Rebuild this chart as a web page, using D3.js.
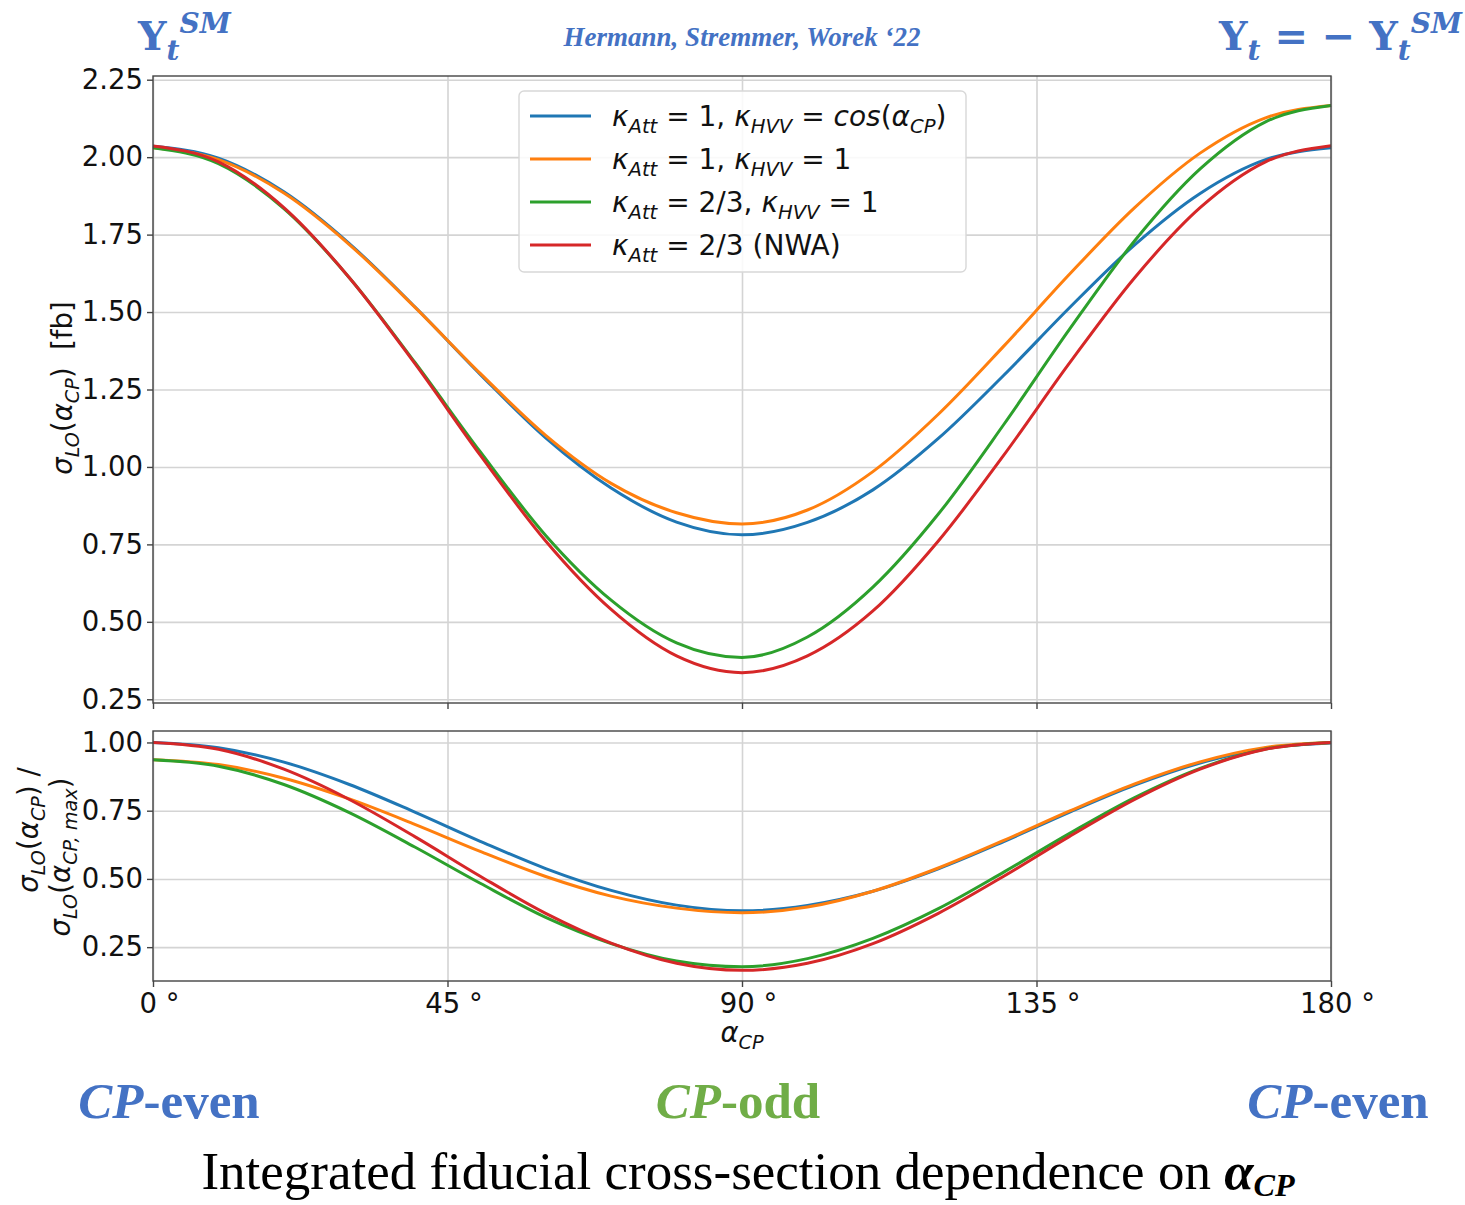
<!DOCTYPE html>
<html>
<head>
<meta charset="utf-8">
<script src="https://cdn.jsdelivr.net/npm/d3@7"></script>
<style>
  body { margin: 0; background: #fff; }
  svg { display: block; }
</style>
</head>
<body>
<div id="chart"></div>
<script>
// alpha_CP scan (every 10 degrees)
var angles = [0, 10, 20, 30, 40, 50, 60, 70, 80, 90, 100, 110, 120, 130, 140, 150, 160, 170, 180];
var xTicks = [0, 45, 90, 135, 180];
var topTicks = [0.25, 0.50, 0.75, 1.00, 1.25, 1.50, 1.75, 2.00, 2.25];
var ratioTicks = [0.25, 0.50, 0.75, 1.00];

// sigma_LO [fb]
var sigmaBlue   = [2.035, 1.997, 1.888, 1.721, 1.517, 1.299, 1.094, 0.932, 0.822, 0.781, 0.821, 0.926, 1.092, 1.296, 1.513, 1.717, 1.883, 1.992, 2.030];
var sigmaOrange = [2.030, 1.992, 1.884, 1.718, 1.516, 1.302, 1.102, 0.947, 0.852, 0.816, 0.861, 0.985, 1.170, 1.390, 1.621, 1.837, 2.013, 2.127, 2.167];
var sigmaGreen  = [2.030, 1.979, 1.834, 1.611, 1.338, 1.049, 0.779, 0.570, 0.432, 0.385, 0.451, 0.612, 0.848, 1.137, 1.443, 1.730, 1.962, 2.114, 2.167];
var sigmaRed    = [2.036, 1.985, 1.837, 1.611, 1.334, 1.038, 0.761, 0.540, 0.390, 0.336, 0.390, 0.535, 0.761, 1.038, 1.334, 1.611, 1.837, 1.985, 2.037];

// sigma_LO / sigma_LO(max)
var ratioBlue   = [1.000, 0.981, 0.928, 0.846, 0.745, 0.638, 0.538, 0.458, 0.404, 0.383, 0.403, 0.455, 0.537, 0.637, 0.744, 0.844, 0.925, 0.979, 0.998];
var ratioOrange = [0.937, 0.919, 0.869, 0.793, 0.700, 0.601, 0.509, 0.437, 0.393, 0.376, 0.397, 0.455, 0.540, 0.641, 0.748, 0.848, 0.929, 0.982, 1.000];
var ratioGreen  = [0.937, 0.913, 0.846, 0.743, 0.617, 0.484, 0.359, 0.263, 0.199, 0.178, 0.208, 0.282, 0.391, 0.525, 0.666, 0.798, 0.905, 0.976, 1.000];
var ratioRed    = [1.000, 0.975, 0.902, 0.791, 0.655, 0.510, 0.374, 0.265, 0.191, 0.165, 0.191, 0.263, 0.374, 0.510, 0.655, 0.791, 0.902, 0.975, 1.000];

var colors = ["#1f77b4", "#ff7f0e", "#2ca02c", "#d62728"];

(function() {

    var width = 1465,
        height = 1205;

    var svg = d3.select("#chart")
        .append("svg")
        .attr("width", width)
        .attr("height", height)
        .style("background", "#fff");

    var sans = "'DejaVu Sans', sans-serif";
    var serif = "'DejaVu Serif', 'Liberation Serif', serif";
    var blue = "#4472c4";

    // draws text made of pieces: {t, i (italic), b (bold), sub, sup}
    function rich(sel, parts, size, subShift) {
        var cur = 0;
        subShift = subShift || 0.24;
        parts.forEach(function(p) {
            var want = p.sub ? size * subShift : (p.sup ? -size * 0.42 : 0);
            var ts = sel.append("tspan").text(p.t);
            if (want !== cur) ts.attr("dy", want - cur);
            cur = want;
            if (p.sub || p.sup) ts.attr("font-size", size * 0.7);
            if (p.i) ts.attr("font-style", "italic");
            if (p.b) ts.attr("font-weight", "bold");
        });
        return sel;
    }

    var x = d3.scaleLinear().domain([0, 180]).range([153, 1331]);
    var yTop = d3.scaleLinear().domain([0.238, 2.262]).range([703, 76]);
    var yBot = d3.scaleLinear().domain([0.126, 1.042]).range([981, 731]);

    var topSeries = [sigmaBlue, sigmaOrange, sigmaGreen, sigmaRed];
    var botSeries = [ratioBlue, ratioOrange, ratioGreen, ratioRed];

    function panel(y, ticks, series, showX) {
        var y0 = y.range()[0], y1 = y.range()[1];
        var g = svg.append("g");

        // grid
        g.append("g")
            .attr("transform", "translate(0," + y0 + ")")
            .call(d3.axisBottom(x).tickValues(xTicks).tickSize(-(y0 - y1)).tickFormat(""))
            .call(function(a) { a.select(".domain").remove(); })
            .selectAll("line").attr("stroke", "#d4d4d4").attr("stroke-width", 1.6);
        g.append("g")
            .attr("transform", "translate(" + x.range()[0] + ",0)")
            .call(d3.axisLeft(y).tickValues(ticks).tickSize(-(x.range()[1] - x.range()[0])).tickFormat(""))
            .call(function(a) { a.select(".domain").remove(); })
            .selectAll("line").attr("stroke", "#d4d4d4").attr("stroke-width", 1.6);

        var line = d3.line()
            .x(function(d, i) { return x(angles[i]); })
            .y(function(d) { return y(d); })
            .curve(d3.curveMonotoneX);

        g.selectAll(".curve")
            .data(series)
            .enter().append("path")
            .attr("class", "curve")
            .attr("d", line)
            .attr("fill", "none")
            .attr("stroke", function(d, i) { return colors[i]; })
            .attr("stroke-width", 3);

        // frame
        g.append("rect")
            .attr("x", x.range()[0]).attr("y", y1)
            .attr("width", x.range()[1] - x.range()[0]).attr("height", y0 - y1)
            .attr("fill", "none").attr("stroke", "#444").attr("stroke-width", 1.4);

        var ya = g.append("g")
            .attr("transform", "translate(" + x.range()[0] + ",0)")
            .call(d3.axisLeft(y).tickValues(ticks).tickSize(6).tickPadding(4).tickFormat(d3.format(".2f")));
        ya.select(".domain").remove();
        ya.selectAll("line").attr("stroke", "#444").attr("stroke-width", 1.4);
        ya.selectAll("text").attr("font-family", sans).attr("font-size", 27.5).attr("fill", "#111");

        var xa = g.append("g")
            .attr("transform", "translate(0," + y0 + ")")
            .call(d3.axisBottom(x).tickValues(xTicks).tickSize(6).tickPadding(6)
                .tickFormat(function(d) { return showX ? d + " \u00b0" : ""; }));
        xa.select(".domain").remove();
        xa.selectAll("line").attr("stroke", "#444").attr("stroke-width", 1.4);
        xa.selectAll("text").attr("font-family", sans).attr("font-size", 27.5).attr("fill", "#111")
            .attr("dx", 6);
        return g;
    }

    panel(yTop, topTicks, topSeries, false);
    panel(yBot, ratioTicks, botSeries, true);

    // legend
    var legendLabels = [
        [{t: "\u03ba", i: 1}, {t: "Att", i: 1, sub: 1}, {t: " = 1, "}, {t: "\u03ba", i: 1}, {t: "HVV", i: 1, sub: 1}, {t: " = "}, {t: "cos", i: 1}, {t: "("}, {t: "\u03b1", i: 1}, {t: "CP", i: 1, sub: 1}, {t: ")"}],
        [{t: "\u03ba", i: 1}, {t: "Att", i: 1, sub: 1}, {t: " = 1, "}, {t: "\u03ba", i: 1}, {t: "HVV", i: 1, sub: 1}, {t: " = 1"}],
        [{t: "\u03ba", i: 1}, {t: "Att", i: 1, sub: 1}, {t: " = 2/3, "}, {t: "\u03ba", i: 1}, {t: "HVV", i: 1, sub: 1}, {t: " = 1"}],
        [{t: "\u03ba", i: 1}, {t: "Att", i: 1, sub: 1}, {t: " = 2/3 (NWA)"}]
    ];
    var legend = svg.append("g");
    legend.append("rect")
        .attr("x", 519).attr("y", 91).attr("width", 447).attr("height", 181)
        .attr("rx", 5).attr("fill", "#fff").attr("fill-opacity", 0.85)
        .attr("stroke", "#d8d8d8").attr("stroke-width", 1.4);
    legendLabels.forEach(function(parts, i) {
        var cy = 116 + i * 43;
        legend.append("line")
            .attr("x1", 530).attr("x2", 591).attr("y1", cy).attr("y2", cy)
            .attr("stroke", colors[i]).attr("stroke-width", 3);
        rich(legend.append("text")
            .attr("x", 612).attr("y", cy + 10)
            .attr("font-family", sans).attr("font-size", 28).attr("fill", "#111"), parts, 28);
    });

    // axis titles
    rich(svg.append("text")
        .attr("transform", "translate(72,388) rotate(-90)")
        .attr("text-anchor", "middle")
        .attr("font-family", sans).attr("font-size", 27.5).attr("fill", "#111"),
        [{t: "\u03c3", i: 1}, {t: "LO", i: 1, sub: 1}, {t: "("}, {t: "\u03b1", i: 1}, {t: "CP", i: 1, sub: 1}, {t: ")\u00a0\u00a0[fb]"}], 27.5);

    rich(svg.append("text")
        .attr("transform", "translate(38,830) rotate(-90)")
        .attr("text-anchor", "middle")
        .attr("font-family", sans).attr("font-size", 27.5).attr("fill", "#111"),
        [{t: "\u03c3", i: 1}, {t: "LO", i: 1, sub: 1}, {t: "("}, {t: "\u03b1", i: 1}, {t: "CP", i: 1, sub: 1}, {t: ") /"}], 27.5);
    rich(svg.append("text")
        .attr("transform", "translate(70,857) rotate(-90)")
        .attr("text-anchor", "middle")
        .attr("font-family", sans).attr("font-size", 27.5).attr("fill", "#111"),
        [{t: "\u03c3", i: 1}, {t: "LO", i: 1, sub: 1}, {t: "("}, {t: "\u03b1", i: 1}, {t: "CP, max", i: 1, sub: 1}, {t: ")"}], 27.5);

    rich(svg.append("text")
        .attr("x", 742).attr("y", 1042)
        .attr("text-anchor", "middle")
        .attr("font-family", sans).attr("font-size", 27.5).attr("fill", "#111"),
        [{t: "\u03b1", i: 1}, {t: "CP", i: 1, sub: 1}], 27.5);

    // header
    rich(svg.append("text")
        .attr("x", 138).attr("y", 50)
        .attr("font-family", serif).attr("font-size", 40).attr("font-weight", "bold").attr("fill", blue),
        [{t: "Y"}, {t: "t", i: 1, sub: 1}, {t: "SM", i: 1, sup: 1}], 40);

    svg.append("text")
        .attr("x", 742).attr("y", 46)
        .attr("text-anchor", "middle")
        .attr("font-family", "'Liberation Serif', serif").attr("font-size", 27)
        .attr("font-style", "italic").attr("font-weight", "bold").attr("fill", blue)
        .text("Hermann, Stremmer, Worek \u201822");

    rich(svg.append("text")
        .attr("x", 1462).attr("y", 50)
        .attr("text-anchor", "end")
        .attr("font-family", serif).attr("font-size", 40).attr("font-weight", "bold").attr("fill", blue),
        [{t: "Y"}, {t: "t", i: 1, sub: 1}, {t: " = \u2212 Y"}, {t: "t", i: 1, sub: 1}, {t: "SM", i: 1, sup: 1}], 40);

    // CP labels under the axis
    var cpLabels = [
        {x: 169, text: "-even", color: blue},
        {x: 738, text: "-odd", color: "#70ad47"},
        {x: 1338, text: "-even", color: blue}
    ];
    cpLabels.forEach(function(d) {
        svg.append("text")
            .attr("x", d.x).attr("y", 1118)
            .attr("text-anchor", "middle")
            .attr("font-family", "'Liberation Serif', serif").attr("font-size", 51)
            .attr("font-weight", "bold").attr("fill", d.color)
            .call(function(t) {
                t.append("tspan").attr("font-style", "italic").text("CP");
                t.append("tspan").text(d.text);
            });
    });

    rich(svg.append("text")
        .attr("x", 748).attr("y", 1189)
        .attr("text-anchor", "middle")
        .attr("font-family", "'Liberation Serif', serif").attr("font-size", 53).attr("fill", "#000"),
        [{t: "Integrated fiducial cross-section dependence on "}, {t: "\u03b1", i: 1, b: 1}, {t: "CP", i: 1, b: 1, sub: 1}], 46, 0.15);

})();
</script>
</body>
</html>
